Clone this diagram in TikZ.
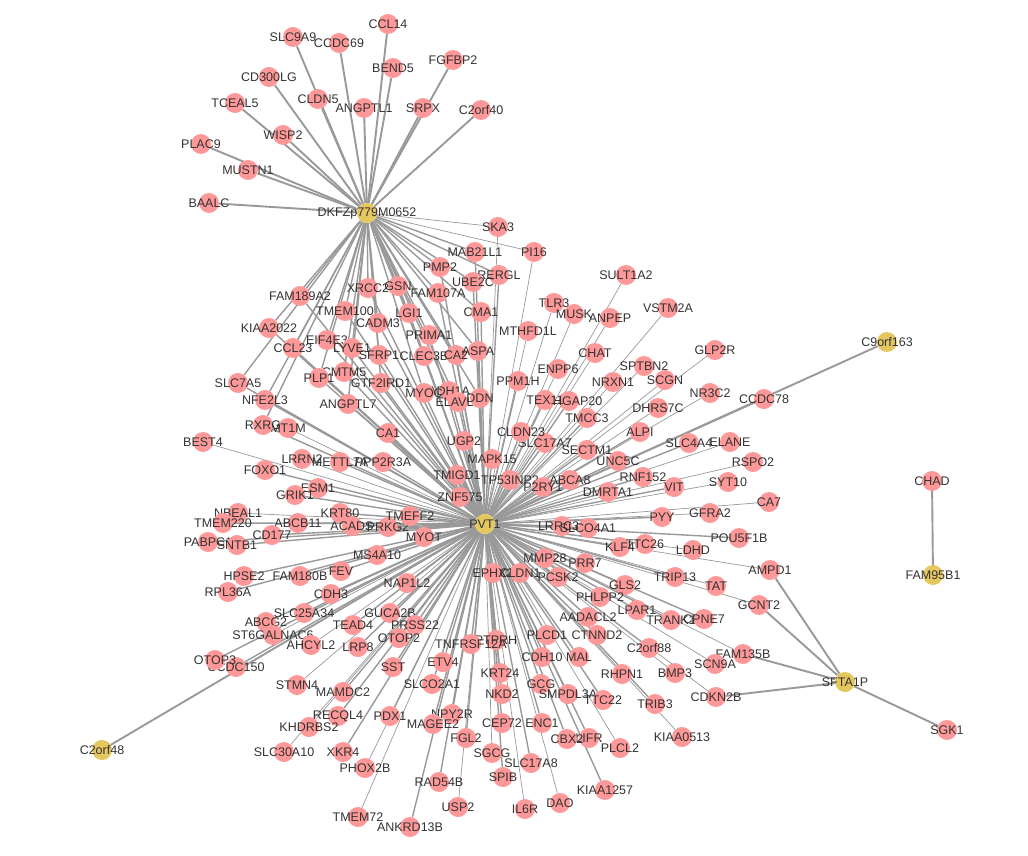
\documentclass[tikz,border=0pt]{standalone}
\usepackage{fontspec}
\setmainfont{Liberation Sans}
\definecolor{pinkn}{RGB}{255,153,153}
\definecolor{goldn}{RGB}{229,199,96}
\definecolor{edgec}{RGB}{153,153,153}
\definecolor{labc}{RGB}{51,51,51}
\pgfdeclarelayer{background}
\pgfsetlayers{background,main}
\tikzset{
 gene/.style={circle, fill=pinkn, minimum size=20pt, inner sep=0pt, draw=none},
 hub/.style={circle, fill=goldn, minimum size=20pt, inner sep=0pt, draw=none},
 lab/.style={text=labc, font=\fontsize{12.5}{13}\selectfont, inner sep=0pt},
 ed/.style={draw=edgec, line width=1.4pt},
 edk/.style={draw=edgec, line width=1.9pt},
 edt/.style={draw=edgec, line width=0.7pt},
}
\newcommand\mygene[4]{\node[gene] (#1) at (#2,#3) {}; \node[lab] at (#1) {#4};}
\newcommand\myhub[4]{\node[hub] (#1) at (#2,#3) {}; \node[lab] at (#1) {#4};}
\begin{document}
\begin{tikzpicture}[x=1pt,y=-1pt]
\useasboundingbox (0,0) rectangle (1028,856);
% hubs
\myhub{DKFZ}{367}{213}{DKFZp779M0652}
\myhub{PVT1}{485}{524}{PVT1}
\myhub{SFTA1P}{845}{682}{SFTA1P}
\myhub{C9orf163}{887}{342}{C9orf163}
\myhub{C2orf48}{102}{750}{C2orf48}
\myhub{FAM95B1}{933}{575}{FAM95B1}
\mygene{CHAD}{932}{481}{CHAD}
\mygene{SGK1}{947}{730}{SGK1}
% DKFZ outer
\mygene{CCL14}{388}{24}{CCL14}
\mygene{SLC9A9}{293}{37}{SLC9A9}
\mygene{CCDC69}{339}{43}{CCDC69}
\mygene{BEND5}{393}{68}{BEND5}
\mygene{FGFBP2}{453}{60}{FGFBP2}
\mygene{CD300LG}{269}{77}{CD300LG}
\mygene{CLDN5}{318}{99}{CLDN5}
\mygene{ANGPTL1}{364}{108}{ANGPTL1}
\mygene{SRPX}{423}{108}{SRPX}
\mygene{C2orf40}{481}{110}{C2orf40}
\mygene{TCEAL5}{235}{103}{TCEAL5}
\mygene{WISP2}{283}{135}{WISP2}
\mygene{PLAC9}{201}{144}{PLAC9}
\mygene{MUSTN1}{248}{170}{MUSTN1}
\mygene{BAALC}{209}{203}{BAALC}
\mygene{SKA3}{498}{227}{SKA3}
\mygene{PI16}{534}{252}{PI16}
% between
\mygene{MAB21L1}{475}{252}{MAB21L1}
\mygene{PMP2}{440}{267}{PMP2}
\mygene{RERGL}{499}{275}{RERGL}
\mygene{UBE2C}{473}{282}{UBE2C}
\mygene{XRCC2}{368}{288}{XRCC2}
\mygene{GSN}{398}{286}{GSN}
\mygene{FAM107A}{438}{293}{FAM107A}
\mygene{FAM189A2}{300}{296}{FAM189A2}
\mygene{TMEM100}{345}{311}{TMEM100}
\mygene{LGI1}{409}{313}{LGI1}
\mygene{CMA1}{481}{312}{CMA1}
\mygene{CADM3}{378}{323}{CADM3}
\mygene{KIAA2022}{269}{328}{KIAA2022}
\mygene{PRIMA1}{429}{335}{PRIMA1}
\mygene{EIF4E3}{327}{340}{EIF4E3}
\mygene{CCL23}{293}{348}{CCL23}
\mygene{LYVE1}{352}{348}{LYVE1}
\mygene{SFRP1}{379}{355}{SFRP1}
\mygene{CLEC3B}{424}{356}{CLEC3B}
\mygene{CA2}{456}{355}{CA2}
\mygene{ASPA}{478}{351}{ASPA}
\mygene{CMTM5}{344}{372}{CMTM5}
\mygene{PLP1}{319}{378}{PLP1}
\mygene{GTF2IRD1}{381}{383}{GTF2IRD1}
\mygene{ADH1A}{449}{391}{ADH1A}
\mygene{MYOC}{424}{393}{MYOC}
\mygene{ELAVL4}{458}{402}{ELAVL4}
\mygene{DDN}{480}{398}{DDN}
\mygene{SLC7A5}{238}{383}{SLC7A5}
\mygene{NFE2L3}{265}{400}{NFE2L3}
\mygene{ANGPTL7}{348}{404}{ANGPTL7}
% upper right of PVT1
\mygene{SULT1A2}{626}{275}{SULT1A2}
\mygene{TLR3}{554}{303}{TLR3}
\mygene{MUSK}{574}{314}{MUSK}
\mygene{ANPEP}{610}{318}{ANPEP}
\mygene{VSTM2A}{668}{308}{VSTM2A}
\mygene{MTHFD1L}{528}{331}{MTHFD1L}
\mygene{CHAT}{595}{353}{CHAT}
\mygene{GLP2R}{715}{350}{GLP2R}
\mygene{ENPP6}{558}{369}{ENPP6}
\mygene{SPTBN2}{644}{366}{SPTBN2}
\mygene{NRXN1}{613}{382}{NRXN1}
\mygene{SCGN}{665}{380}{SCGN}
\mygene{PPM1H}{518}{381}{PPM1H}
\mygene{NR3C2}{710}{393}{NR3C2}
\mygene{CCDC78}{764}{399}{CCDC78}
\mygene{ARHGAP20}{569}{401}{ARHGAP20}
\mygene{TEX11}{545}{400}{TEX11}
\mygene{TMCC3}{587}{418}{TMCC3}
\mygene{DHRS7C}{658}{408}{DHRS7C}
\mygene{ALPI}{640}{432}{ALPI}
\mygene{SLC17A7}{545}{443}{SLC17A7}
\mygene{CLDN23}{521}{432}{CLDN23}
\mygene{UGP2}{464}{441}{UGP2}
\mygene{SECTM1}{587}{450}{SECTM1}
\mygene{SLC4A4}{689}{443}{SLC4A4}
\mygene{ELANE}{730}{442}{ELANE}
\mygene{MAPK15}{492}{459}{MAPK15}
\mygene{UNC5C}{618}{461}{UNC5C}
\mygene{RSPO2}{753}{462}{RSPO2}
\mygene{TMIGD1}{457}{475}{TMIGD1}
\mygene{TP53INP2}{510}{480}{TP53INP2}
\mygene{P2RY1}{543}{487}{P2RY1}
\mygene{ABCA8}{570}{480}{ABCA8}
\mygene{RNF152}{643}{477}{RNF152}
\mygene{DMRTA1}{608}{492}{DMRTA1}
\mygene{VIT}{674}{487}{VIT}
\mygene{SYT10}{728}{482}{SYT10}
\mygene{ZNF575}{460}{497}{ZNF575}
\mygene{CA7}{769}{502}{CA7}
\mygene{GFRA2}{710}{513}{GFRA2}
\mygene{PYY}{662}{517}{PYY}
\mygene{LRRC38}{562}{526}{LRRC38}
\mygene{SLCO4A1}{588}{528}{SLCO4A1}
\mygene{POU5F1B}{739}{538}{POU5F1B}
\mygene{KLF4}{620}{547}{KLF4}
\mygene{TTC26}{645}{544}{TTC26}
\mygene{LDHD}{693}{550}{LDHD}
\mygene{AMPD1}{770}{570}{AMPD1}
% left of PVT1
\mygene{MT1M}{288}{428}{MT1M}
\mygene{RXRG}{263}{425}{RXRG}
\mygene{CA1}{388}{433}{CA1}
\mygene{BEST4}{203}{442}{BEST4}
\mygene{LRRN2}{302}{459}{LRRN2}
\mygene{METTL7A}{340}{462}{METTL7A}
\mygene{PPP2R3A}{383}{462}{PPP2R3A}
\mygene{FOXO1}{265}{470}{FOXO1}
\mygene{ESM1}{318}{488}{ESM1}
\mygene{GRIK1}{295}{495}{GRIK1}
\mygene{NBEAL1}{238}{513}{NBEAL1}
\mygene{TMEM220}{223}{523}{TMEM220}
\mygene{KRT80}{340}{513}{KRT80}
\mygene{ABCB11}{298}{523}{ABCB11}
\mygene{ACADS}{352}{526}{ACADS}
\mygene{PRKG2}{388}{527}{PRKG2}
\mygene{TMEFF2}{410}{516}{TMEFF2}
\mygene{MYOT}{424}{537}{MYOT}
\mygene{CD177}{272}{535}{CD177}
\mygene{PABPC1}{208}{542}{PABPC1}
\mygene{SNTB1}{237}{545}{SNTB1}
\mygene{MS4A10}{377}{555}{MS4A10}
\mygene{HPSE2}{244}{576}{HPSE2}
\mygene{FAM180B}{300}{576}{FAM180B}
\mygene{FEV}{341}{571}{FEV}
\mygene{NAP1L2}{407}{583}{NAP1L2}
\mygene{RPL36A}{228}{592}{RPL36A}
\mygene{CDH3}{331}{594}{CDH3}
\mygene{SLC25A34}{304}{613}{SLC25A34}
\mygene{GUCA2B}{390}{613}{GUCA2B}
\mygene{ABCG2}{266}{622}{ABCG2}
\mygene{PRSS22}{415}{625}{PRSS22}
\mygene{TEAD4}{353}{625}{TEAD4}
\mygene{ST6GALNAC6}{273}{635}{ST6GALNAC6}
\mygene{OTOP2}{399}{638}{OTOP2}
\mygene{AHCYL2}{311}{645}{AHCYL2}
\mygene{LRP8}{358}{647}{LRP8}
\mygene{CCDC150}{236}{667}{CCDC150}
\mygene{OTOP3}{215}{660}{OTOP3}
\mygene{SST}{393}{667}{SST}
\mygene{STMN4}{297}{685}{STMN4}
\mygene{MAMDC2}{343}{692}{MAMDC2}
\mygene{SLCO2A1}{432}{684}{SLCO2A1}
\mygene{ETV4}{443}{662}{ETV4}
\mygene{RECQL4}{338}{716}{RECQL4}
\mygene{PDX1}{390}{716}{PDX1}
\mygene{NPY2R}{452}{714}{NPY2R}
\mygene{MAGEE2}{433}{724}{MAGEE2}
\mygene{KHDRBS2}{309}{727}{KHDRBS2}
\mygene{FGL2}{466}{738}{FGL2}
\mygene{SLC30A10}{284}{752}{SLC30A10}
\mygene{XKR4}{343}{752}{XKR4}
\mygene{PHOX2B}{365}{768}{PHOX2B}
\mygene{RAD54B}{439}{782}{RAD54B}
\mygene{USP2}{458}{807}{USP2}
\mygene{TMEM72}{358}{817}{TMEM72}
\mygene{ANKRD13B}{410}{827}{ANKRD13B}
% lower right of PVT1
\mygene{MMP28}{545}{558}{MMP28}
\mygene{PRR7}{585}{563}{PRR7}
\mygene{EPHX2}{493}{573}{EPHX2}
\mygene{CLDN1}{520}{573}{CLDN1}
\mygene{PCSK2}{558}{577}{PCSK2}
\mygene{GLS2}{625}{585}{GLS2}
\mygene{TRIP13}{675}{577}{TRIP13}
\mygene{TAT}{716}{586}{TAT}
\mygene{PHLPP2}{600}{597}{PHLPP2}
\mygene{AADACL2}{588}{617}{AADACL2}
\mygene{LPAR1}{637}{610}{LPAR1}
\mygene{TRANK1}{671}{620}{TRANK1}
\mygene{CPNE7}{704}{619}{CPNE7}
\mygene{GCNT2}{759}{605}{GCNT2}
\mygene{PTPRH}{496}{640}{PTPRH}
\mygene{TNFRSF12A}{471}{644}{TNFRSF12A}
\mygene{PLCD1}{547}{635}{PLCD1}
\mygene{CTNND2}{597}{635}{CTNND2}
\mygene{C2orf88}{649}{648}{C2orf88}
\mygene{FAM135B}{743}{654}{FAM135B}
\mygene{CDH10}{542}{657}{CDH10}
\mygene{MAL}{579}{657}{MAL}
\mygene{SCN9A}{715}{664}{SCN9A}
\mygene{RHPN1}{622}{674}{RHPN1}
\mygene{BMP3}{675}{673}{BMP3}
\mygene{KRT24}{500}{673}{KRT24}
\mygene{GCG}{541}{684}{GCG}
\mygene{NKD2}{502}{694}{NKD2}
\mygene{SMPDL3A}{568}{694}{SMPDL3A}
\mygene{TTC22}{603}{700}{TTC22}
\mygene{TRIB3}{655}{704}{TRIB3}
\mygene{CDKN2B}{716}{697}{CDKN2B}
\mygene{KIAA0513}{682}{737}{KIAA0513}
\mygene{CEP72}{502}{723}{CEP72}
\mygene{ENC1}{542}{723}{ENC1}
\mygene{LIFR}{589}{738}{LIFR}
\mygene{CBX2}{567}{739}{CBX2}
\mygene{PLCL2}{620}{748}{PLCL2}
\mygene{SGCG}{492}{753}{SGCG}
\mygene{SLC17A8}{531}{763}{SLC17A8}
\mygene{SPIB}{503}{777}{SPIB}
\mygene{KIAA1257}{605}{790}{KIAA1257}
\mygene{IL6R}{525}{809}{IL6R}
\mygene{DAO}{560}{803}{DAO}
\begin{pgfonlayer}{background}
\fill[white] (0,0) rectangle (1028,856);
% DKFZ only
\foreach \n in {CCL14,SLC9A9,CCDC69,BEND5,FGFBP2,CD300LG,CLDN5,ANGPTL1,SRPX,C2orf40,TCEAL5,WISP2,PLAC9,MUSTN1,BAALC}
  \draw[edk] (DKFZ) -- (\n);
% shared with PVT1
\foreach \n in {MAB21L1,PMP2,RERGL,UBE2C,XRCC2,GSN,FAM107A,FAM189A2,TMEM100,LGI1,CMA1,CADM3,KIAA2022,PRIMA1,EIF4E3,CCL23,LYVE1,SFRP1,CLEC3B,CA2,ASPA,CMTM5,PLP1,GTF2IRD1,MYOC,ADH1A,ELAVL4,DDN,SLC7A5,NFE2L3,ANGPTL7,RXRG}
  {\draw[ed] (DKFZ) -- (\n); \draw[ed] (PVT1) -- (\n);}
\foreach \n in {SKA3,PI16}
  {\draw[edt] (DKFZ) -- (\n); \draw[edt] (PVT1) -- (\n);}
% PVT1 thin
\foreach \n in {SULT1A2,VSTM2A,GLP2R,NR3C2,SCGN,DHRS7C,SPTBN2,NRXN1,CHAT,ANPEP,MUSK,TLR3,ELANE,RSPO2,SYT10,CA7,GFRA2,LDHD,AMPD1,TAT,GCNT2,FAM135B,SCN9A,CDKN2B,BMP3,KIAA0513,PLCL2,DAO,IL6R,USP2,SGCG,TMEM72,PHOX2B,SLC30A10,KHDRBS2,STMN4,BEST4,NBEAL1,LRRN2,MT1M,ST6GALNAC6,AHCYL2,MTHFD1L,ENPP6,CCDC78,C2orf88,RHPN1}
  \draw[edt] (PVT1) -- (\n);
% PVT1 normal
\foreach \n in {PPM1H,ARHGAP20,TEX11,TMCC3,ALPI,SLC17A7,CLDN23,UGP2,SECTM1,SLC4A4,MAPK15,UNC5C,TMIGD1,TP53INP2,P2RY1,ABCA8,RNF152,DMRTA1,VIT,ZNF575,PYY,LRRC38,SLCO4A1,POU5F1B,KLF4,TTC26,CA1,METTL7A,PPP2R3A,FOXO1,ESM1,GRIK1,TMEM220,KRT80,ABCB11,ACADS,PRKG2,TMEFF2,MYOT,CD177,PABPC1,SNTB1,MS4A10,HPSE2,FAM180B,FEV,NAP1L2,RPL36A,CDH3,SLC25A34,GUCA2B,ABCG2,PRSS22,TEAD4,OTOP2,LRP8,CCDC150,OTOP3,SST,MAMDC2,SLCO2A1,ETV4,RECQL4,PDX1,NPY2R,MAGEE2,FGL2,XKR4,RAD54B,ANKRD13B,MMP28,PRR7,EPHX2,CLDN1,PCSK2,GLS2,TRIP13,PHLPP2,AADACL2,LPAR1,TRANK1,CPNE7,PTPRH,TNFRSF12A,PLCD1,CTNND2,CDH10,MAL,KRT24,GCG,NKD2,SMPDL3A,TTC22,TRIB3,CEP72,ENC1,LIFR,CBX2,SLC17A8,SPIB,KIAA1257}
  \draw[ed] (PVT1) -- (\n);
% other hubs
\draw[edk] (PVT1) -- (C9orf163);
\draw[edk] (PVT1) -- (C2orf48);
\foreach \n in {AMPD1,GCNT2,FAM135B,CDKN2B,SGK1}
  \draw[edk] (SFTA1P) -- (\n);
\draw[edk] (CHAD) -- (FAM95B1);
\end{pgfonlayer}
\end{tikzpicture}
\end{document}
